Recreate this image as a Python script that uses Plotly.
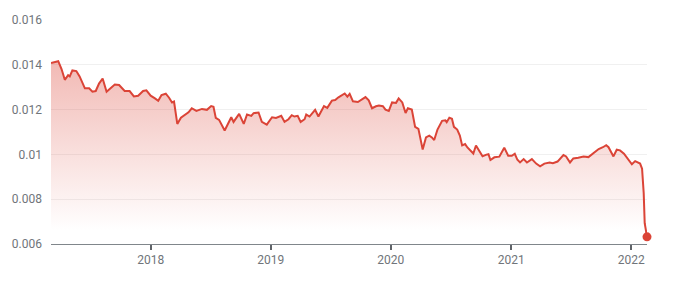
import plotly.graph_objects as go

dates = [
    "2017-03-04", "2017-03-16", "2017-03-26", "2017-04-05", "2017-04-15", "2017-04-25", "2017-04-30", "2017-05-08", "2017-05-20", "2017-05-30",
    "2017-06-15", "2017-06-28", "2017-07-08", "2017-07-18", "2017-07-28", "2017-08-08", "2017-08-20", "2017-09-01", "2017-09-14", "2017-09-27",
    "2017-10-14", "2017-10-29", "2017-11-11", "2017-11-24", "2017-12-09", "2017-12-19", "2018-01-01", "2018-01-14", "2018-01-24", "2018-02-03",
    "2018-02-16", "2018-02-26", "2018-03-07", "2018-03-13", "2018-03-23", "2018-04-03", "2018-04-16", "2018-04-26", "2018-05-06", "2018-05-20",
    "2018-06-06", "2018-06-21", "2018-07-04", "2018-07-11", "2018-07-18", "2018-07-28", "2018-08-14", "2018-08-24", "2018-09-03", "2018-09-10",
    "2018-09-27", "2018-10-11", "2018-10-21", "2018-11-03", "2018-11-10", "2018-11-25", "2018-12-05", "2018-12-20", "2019-01-05", "2019-01-17",
    "2019-02-02", "2019-02-12", "2019-02-24", "2019-03-06", "2019-03-14", "2019-03-24", "2019-04-02", "2019-04-14", "2019-04-19", "2019-04-29",
    "2019-05-16", "2019-05-26", "2019-06-12", "2019-06-22", "2019-07-06", "2019-07-16", "2019-07-26", "2019-08-14", "2019-08-22", "2019-08-29",
    "2019-09-08", "2019-09-23", "2019-10-01", "2019-10-16", "2019-10-26", "2019-11-05", "2019-11-17", "2019-11-26", "2019-12-08", "2019-12-16",
    "2019-12-26", "2020-01-05", "2020-01-17", "2020-01-25", "2020-02-05", "2020-02-15", "2020-02-22", "2020-03-05", "2020-03-15", "2020-03-25",
    "2020-04-07", "2020-04-17", "2020-04-27", "2020-05-05", "2020-05-12", "2020-05-22", "2020-06-05", "2020-06-15", "2020-06-19", "2020-06-27",
    "2020-07-05", "2020-07-11", "2020-07-21", "2020-07-29", "2020-08-05", "2020-08-14", "2020-08-21", "2020-09-01", "2020-09-08", "2020-09-16",
    "2020-09-26", "2020-10-06", "2020-10-18", "2020-10-24", "2020-10-30", "2020-11-11", "2020-11-26", "2020-12-01", "2020-12-11", "2020-12-23",
    "2021-01-03", "2021-01-12", "2021-01-20", "2021-01-28", "2021-02-08", "2021-02-18", "2021-03-05", "2021-03-18", "2021-03-30", "2021-04-12",
    "2021-04-28", "2021-05-08", "2021-05-22", "2021-06-09", "2021-06-17", "2021-06-29", "2021-07-09", "2021-07-24", "2021-08-09", "2021-08-24",
    "2021-09-09", "2021-09-24", "2021-10-07", "2021-10-17", "2021-10-24", "2021-11-08", "2021-11-18", "2021-11-28", "2021-12-10", "2021-12-23",
    "2022-01-03", "2022-01-13", "2022-01-28", "2022-02-03", "2022-02-08", "2022-02-11", "2022-02-18",
]

values = [
    0.01408, 0.01413, 0.01416, 0.01381, 0.01333, 0.01354, 0.01348, 0.01375, 0.01372, 0.01348,
    0.01295, 0.01295, 0.01280, 0.01283, 0.01316, 0.01339, 0.01280, 0.01295, 0.01312, 0.01310,
    0.01283, 0.01283, 0.01259, 0.01262, 0.01283, 0.01286, 0.01262, 0.01250, 0.01239, 0.01265,
    0.01271, 0.01253, 0.01232, 0.01236, 0.01136, 0.01164, 0.01179, 0.01188, 0.01206, 0.01194,
    0.01203, 0.01199, 0.01216, 0.01213, 0.01163, 0.01154, 0.01107, 0.01136, 0.01166, 0.01145,
    0.01181, 0.01136, 0.01178, 0.01172, 0.01184, 0.01187, 0.01145, 0.01133, 0.01166, 0.01163,
    0.01172, 0.01145, 0.01157, 0.01175, 0.01169, 0.01172, 0.01145, 0.01157, 0.01178, 0.01169,
    0.01199, 0.01169, 0.01216, 0.01208, 0.01240, 0.01243, 0.01255, 0.01272, 0.01258, 0.01270,
    0.01237, 0.01234, 0.01243, 0.01256, 0.01241, 0.01206, 0.01215, 0.01218, 0.01215, 0.01200,
    0.01194, 0.01232, 0.01230, 0.01250, 0.01232, 0.01185, 0.01206, 0.01200, 0.01123, 0.01114,
    0.01022, 0.01076, 0.01084, 0.01076, 0.01064, 0.01111, 0.01150, 0.01152, 0.01144, 0.01164,
    0.01159, 0.01123, 0.01111, 0.01084, 0.01040, 0.01046, 0.01031, 0.01016, 0.01004, 0.01040,
    0.01016, 0.00992, 0.00999, 0.01001, 0.00975, 0.00987, 0.00990, 0.01003, 0.01030, 0.00994,
    0.00994, 0.01003, 0.00976, 0.00964, 0.00979, 0.00964, 0.00979, 0.00959, 0.00947, 0.00959,
    0.00964, 0.00961, 0.00968, 0.00997, 0.00991, 0.00964, 0.00982, 0.00985, 0.00991, 0.00988,
    0.01006, 0.01024, 0.01032, 0.01041, 0.01032, 0.00991, 0.01021, 0.01018, 0.01003, 0.00975,
    0.00956, 0.00970, 0.00959, 0.00936, 0.00827, 0.00693, 0.00632,
]

x_tick_dates = ["2018-01-01", "2019-01-01", "2020-01-01", "2021-01-01", "2022-01-01"]
x_tick_labels = ["2018", "2019", "2020", "2021", "2022"]
y_tick_values = [0.006, 0.008, 0.010, 0.012, 0.014, 0.016]
y_tick_labels = ["0.006", "0.008", "0.01", "0.012", "0.014", "0.016"]

RED = "#db4437"
GRAY = "#70757a"

fig = go.Figure()
fig.add_trace(go.Scatter(
    x=dates, y=values, mode="lines",
    line=dict(color=RED, width=2),
    fill="tozeroy",
    fillgradient=dict(
        type="vertical",
        colorscale=[[0, "rgba(219,68,55,0)"], [1, "rgba(219,68,55,0.38)"]],
        start=0.0066, stop=0.0143,
    ),
    hoverinfo="skip",
))
fig.add_trace(go.Scatter(
    x=[dates[-1]], y=[values[-1]], mode="markers",
    marker=dict(color=RED, size=9),
    cliponaxis=False, hoverinfo="skip",
))

fig.update_layout(
    width=677, height=281,
    margin=dict(l=48, r=30, t=20, b=37),
    paper_bgcolor="white", plot_bgcolor="white",
    showlegend=False,
    font=dict(family="Roboto", size=12, color=GRAY),
)
fig.update_xaxes(
    type="date",
    range=[dates[0], dates[-1]],
    tickvals=x_tick_dates, ticktext=x_tick_labels,
    showgrid=False, zeroline=False,
    showline=True, linecolor="#80868b", linewidth=1,
    ticks="outside", ticklen=5, tickwidth=2, tickcolor="#5f6368",
    tickfont=dict(size=12, color=GRAY),
)
fig.update_yaxes(
    range=[0.006, 0.016],
    tickvals=y_tick_values, ticktext=y_tick_labels,
    showgrid=True, gridcolor="#f0f0f0", gridwidth=1,
    zeroline=False, showline=False, ticks="",
    ticklabelstandoff=8,
    tickfont=dict(size=12, color=GRAY),
)

fig.write_html("out.html")
